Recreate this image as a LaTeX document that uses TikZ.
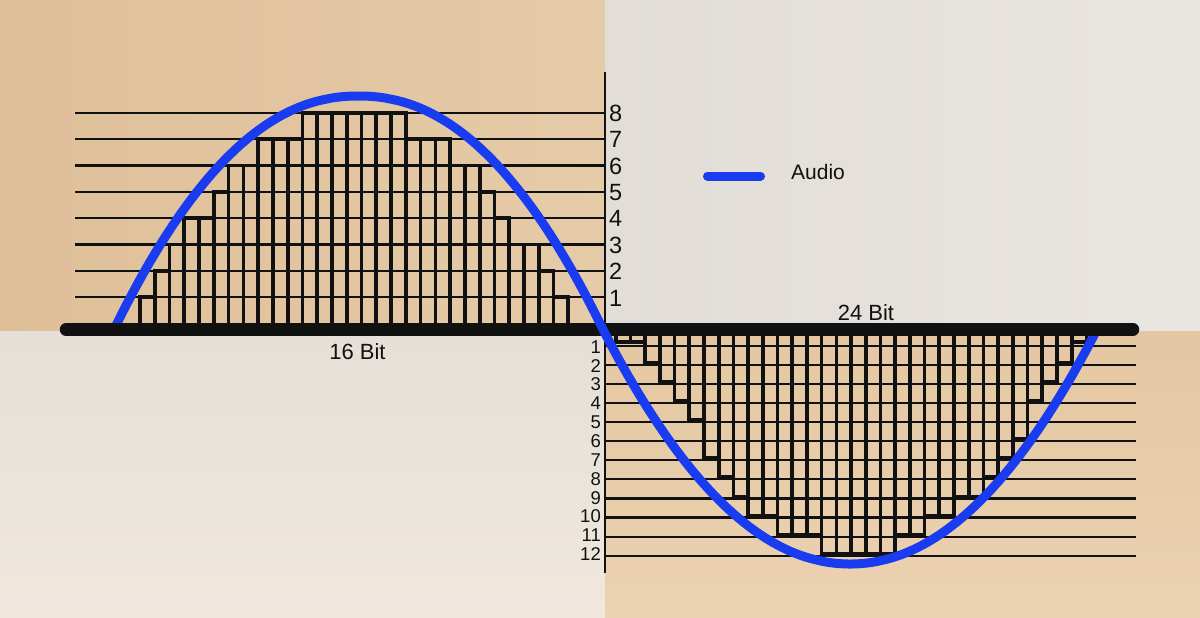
\documentclass[tikz,border=0pt]{standalone}
\usepackage{fontspec}
\setmainfont{Liberation Sans}
\definecolor{ink}{RGB}{17,17,17}
\definecolor{audioblue}{RGB}{25,60,240}
\definecolor{tlA}{RGB}{222,191,152}
\definecolor{tlB}{RGB}{230,203,168}
\definecolor{trA}{RGB}{226,221,215}
\definecolor{trB}{RGB}{233,229,224}
\definecolor{blA}{RGB}{229,223,215}
\definecolor{blB}{RGB}{240,232,221}
\definecolor{brA}{RGB}{228,199,162}
\definecolor{brB}{RGB}{235,210,177}
\begin{document}
\begin{tikzpicture}[x=1pt,y=-1pt,
  lvl/.style={line width=2.2pt, draw=ink},
  barbox/.style={line width=3.7pt, draw=ink},
  axisline/.style={line width=12.5pt, draw=ink},
  vaxis/.style={line width=2pt, draw=ink},
  wave/.style={line width=9pt, draw=audioblue},
  biglab/.style={font=\fontsize{23.5}{23.5}\selectfont, text=ink, inner sep=0pt},
  smalllab/.style={font=\fontsize{18.5}{18.5}\selectfont, text=ink, inner sep=0pt},
  title/.style={font=\fontsize{22}{22}\selectfont, text=ink, inner sep=0pt}]
\useasboundingbox (0,0) rectangle (1200,618);
% backgrounds
\shade[left color=tlA, right color=tlB] (0,0) rectangle (605,331);
\shade[left color=trA, right color=trB] (605,0) rectangle (1200,331);
\shade[top color=blA, bottom color=blB] (0,331) rectangle (605,618);
\shade[top color=brA, bottom color=brB] (605,331) rectangle (1200,618);
% left level lines and labels
\foreach \k in {1,...,8}{
  \pgfmathsetmacro{\yy}{297.3-26.37*(\k-1)}
  \draw[lvl] (75,\yy) -- (605,\yy);
  \node[biglab, anchor=base west] (ll\k) at (609,\yy+8.8) {\k};
}
% right level lines and labels
\foreach \k in {1,...,12}{
  \pgfmathsetmacro{\yy}{345.7+19.09*(\k-1)}
  \pgfmathsetmacro{\yl}{346.5+18.85*(\k-1)+6.7}
  \draw[lvl] (605,\yy) -- (1136,\yy);
  \node[smalllab, anchor=base east] (rl\k) at (601,\yl) {\k};
}
% left bars (16 Bit)
\foreach \lev [count=\i from 0] in {1,2,3,4,4,5,6,6,7,7,7,8,8,8,8,8,8,8,7,7,7,6,6,5,4,3,3,2,1}{
  \pgfmathsetmacro{\xa}{140+14.77*\i}
  \pgfmathsetmacro{\xb}{140+14.77*(\i+1)}
  \pgfmathsetmacro{\yt}{297.3-26.37*(\lev-1)}
  \draw[barbox] (\xa,329.5) rectangle (\xb,\yt);
}
% right bars (24 Bit)
\foreach \lev [count=\i from 0] in {1,1,2,3,4,5,7,8,9,10,10,11,11,11,12,12,12,12,12,11,11,10,10,9,9,8,7,6,4,3,2,1}{
  \pgfmathsetmacro{\xa}{615.7+14.71*\i}
  \pgfmathsetmacro{\xb}{615.7+14.71*(\i+1)}
  \pgfmathsetmacro{\yt}{ifthenelse(\lev==1,341.7,343.7+19.09*(\lev-1))}
  \draw[barbox] (\xa,329.5) rectangle (\xb,\yt);
}
% axes
\coordinate (axL) at (66,329.5);
\coordinate (axR) at (1133,329.5);
\draw[axisline, line cap=round] (axL) -- (axR);
\coordinate (vT) at (605,72);
\coordinate (vB) at (605,573);
\draw[vaxis] (vT) -- (vB);
% audio wave: two lobes
\draw[wave, line join=round]
  plot[domain=-1:1, samples=120, variable=\t] ({358.5+244.5*\t}, {329.5-233.5*(1-abs(\t)^2.15)})
  -- plot[domain=-1:1, samples=120, variable=\t] ({850+247*\t}, {329.5+234.5*(1-abs(\t)^2.05)});
% axis ends drawn over the wave ends
\coordinate (cL1) at (95,329.5);
\coordinate (cL2) at (140,329.5);
\coordinate (cR1) at (1070,329.5);
\coordinate (cR2) at (1118,329.5);
\draw[axisline] (cL1) -- (cL2);
\draw[axisline] (cR1) -- (cR2);
% labels
\node[title, anchor=base] (b16) at (357.5,359.3) {16 Bit};
\node[title, anchor=base] (b24) at (866,320) {24 Bit};
% legend
\coordinate (legA) at (707.5,176);
\coordinate (legB) at (760.5,176);
\draw[wave, line cap=round] (legA) -- (legB);
\node[font=\fontsize{21}{21}\selectfont, text=ink, inner sep=0pt, anchor=base] (aud) at (818,179.3) {Audio};
\end{tikzpicture}
\end{document}
